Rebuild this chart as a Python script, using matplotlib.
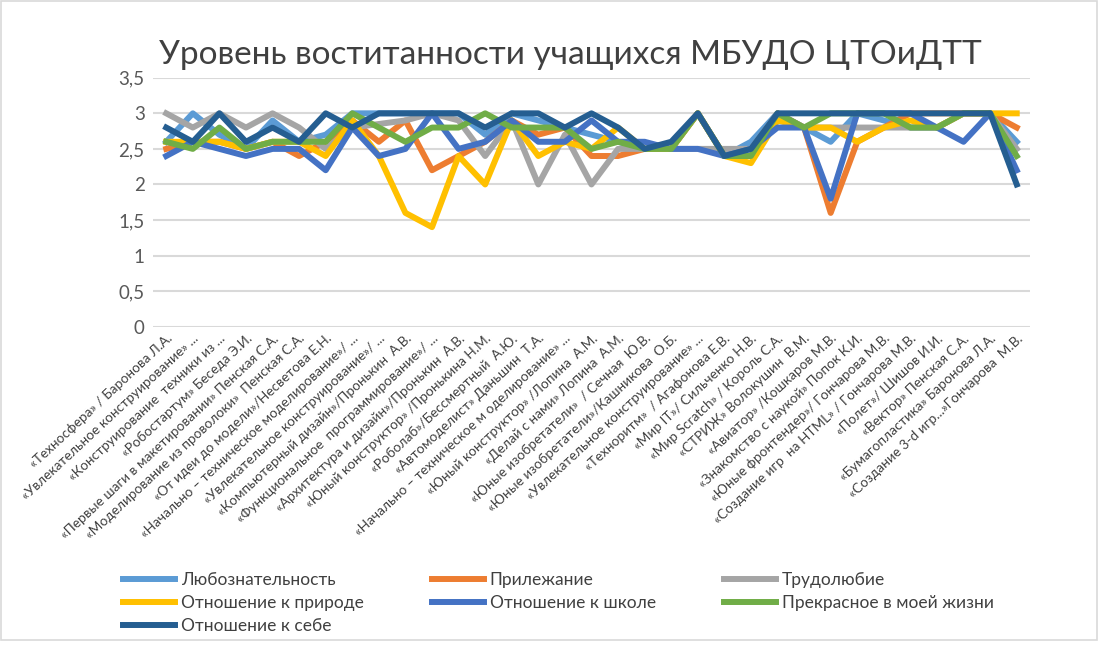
import matplotlib
matplotlib.use('Agg')
import matplotlib.pyplot as plt
from matplotlib.patches import Rectangle

categories = [
    '«Техносфера» / Баронова Л.А.',
    '«Увлекательное конструирование» ...',
    '«Конструирование  техники из ...',
    '«Робостартум» Беседа Э.И.',
    '«Первые шаги в макетировании» Пенская С.А.',
    '«Моделирование из проволоки»  Пенская С.А.',
    '«От идеи до модели»/Несветова Е.Н.',
    '«Начально – техническое моделирование»/ ...',
    '«Увлекательное конструирование»/ ...',
    '«Компьютерный дизайн»/Пронькин  А.В.',
    '«Функциональное  программирование»/ ...',
    '«Архитектура и дизайн»/Пронькин  А.В.',
    '«Юный конструктор» /Пронькина Н.М.',
    '«Роболаб»/Бессмертный  А.Ю.',
    '«Автомоделист» Даньшин  Т.А.',
    '«Начально – техническое м оделирование» ...',
    '«Юный конструктор» /Лопина  А.М.',
    '«Делай с нами» Лопина  А.М.',
    '«Юные изобретатели»  / Сечная  Ю.В.',
    '«Юные изобретатели»/Кашникова  О.Б.',
    '«Увлекательное конструирование» ...',
    '«Техноритм»  / Агафонова Е.В.',
    '«Мир IT»/ Сильченко Н.В.',
    '«Мир Scratch» / Король С.А.',
    '«СТРИЖ» Волокушин  В.М.',
    '«Авиатор» /Кошкаров М.В.',
    '«Знакомство с наукой» Попок К.И.',
    '«Юные фронтендер»/ Гончарова М.В.',
    '«Создание игр  на HTML» / Гончарова М.В.',
    '«Полет»/ Шишов И.И.',
    '«Вектор» Пенская С.А.',
    '«Бумагопластика» Баронова Л.А.',
    '«Создание 3-d игр...»Гончарова  М.В.',
]

curiosity = [2.6, 3.0, 2.7, 2.5, 2.9, 2.6, 2.7, 3.0, 3.0, 3.0, 3.0, 3.0, 2.7, 3.0, 2.9, 2.8, 2.7,
             2.6, 2.5, 2.5, 3.0, 2.4, 2.6, 3.0, 2.8, 2.6, 3.0, 2.9, 2.8, 2.8, 3.0, 3.0, 2.6]
diligence = [2.5, 2.6, 2.6, 2.5, 2.6, 2.4, 2.6, 2.9, 2.6, 2.9, 2.2, 2.4, 2.6, 2.9, 2.7, 2.8, 2.4,
             2.4, 2.5, 2.5, 3.0, 2.4, 2.4, 3.0, 2.8, 1.6, 2.6, 2.8, 3.0, 3.0, 3.0, 3.0, 2.8]
industry = [3.0, 2.8, 3.0, 2.8, 3.0, 2.8, 2.5, 2.8, 2.85, 2.9, 3.0, 2.9, 2.4, 2.9, 2.0, 2.7, 2.0,
            2.5, 2.5, 2.5, 2.5, 2.5, 2.5, 3.0, 2.8, 2.8, 2.8, 2.8, 2.8, 2.8, 3.0, 3.0, 2.5]
nature = [2.6, 2.6, 2.6, 2.5, 2.6, 2.6, 2.4, 2.9, 2.4, 1.6, 1.4, 2.4, 2.0, 2.9, 2.4, 2.6, 2.5,
          2.8, 2.5, 2.5, 3.0, 2.4, 2.3, 2.9, 2.8, 2.8, 2.6, 2.8, 2.9, 2.8, 3.0, 3.0, 3.0]
school = [2.4, 2.6, 2.5, 2.4, 2.5, 2.5, 2.2, 2.8, 2.4, 2.5, 3.0, 2.5, 2.6, 2.9, 2.6, 2.6, 2.9,
          2.6, 2.6, 2.5, 2.5, 2.4, 2.5, 2.8, 2.8, 1.8, 3.0, 3.0, 3.0, 2.8, 2.6, 3.0, 2.2]
beauty = [2.6, 2.5, 2.8, 2.5, 2.6, 2.6, 2.6, 3.0, 2.8, 2.6, 2.8, 2.8, 3.0, 2.8, 2.8, 2.8, 2.5,
          2.6, 2.5, 2.5, 3.0, 2.4, 2.4, 3.0, 2.8, 3.0, 3.0, 3.0, 2.8, 2.8, 3.0, 3.0, 2.4]
self_att = [2.8, 2.6, 3.0, 2.6, 2.8, 2.6, 3.0, 2.8, 3.0, 3.0, 3.0, 3.0, 2.8, 3.0, 3.0, 2.8, 3.0,
            2.8, 2.5, 2.6, 3.0, 2.4, 2.5, 3.0, 3.0, 3.0, 3.0, 3.0, 3.0, 3.0, 3.0, 3.0, 2.0]

series_names = ['Любознательность', 'Прилежание', 'Трудолюбие', 'Отношение к природе',
                'Отношение к школе', 'Прекрасное в моей жизни', 'Отношение к себе']
series_values = [curiosity, diligence, industry, nature, school, beauty, self_att]
colors = ['#5B9BD5', '#ED7D31', '#A5A5A5', '#FFC000', '#4472C4', '#70AD47', '#255E91']

plt.rcParams['font.family'] = ['Lato', 'DejaVu Sans']

fig = plt.figure(figsize=(11.14, 6.53), dpi=100)
ax = fig.add_axes([0.1373, 0.4997, 0.7873, 0.3812])

x = list(range(len(categories)))
handles = []
for name, vals, c in zip(series_names, series_values, colors):
    h, = ax.plot(x, vals, color=c, linewidth=4.3, label=name, solid_joinstyle='round')
    handles.append(h)

ax.set_xlim(-0.5, len(categories) - 0.5)
ax.set_ylim(0, 3.5)
ax.set_yticks([0, 0.5, 1, 1.5, 2, 2.5, 3, 3.5])
ax.set_yticklabels(['0', '0,5', '1', '1,5', '2', '2,5', '3', '3,5'], fontsize=13.5, color='#595959')
ax.set_xticks(x)
ax.set_xticklabels(categories, rotation=43, ha='right', rotation_mode='anchor',
                   fontsize=9.8, color='#404040')
ax.tick_params(axis='both', length=0, pad=6)
ax.tick_params(axis='x', pad=4)
ax.yaxis.grid(True, color='#D9D9D9', linewidth=1.5)
ax.set_axisbelow(True)
for s in ax.spines.values():
    s.set_visible(False)

fig.text(0.512, 0.916, 'Уровень воститанности учащихся МБУДО ЦТОиДТТ',
         ha='center', va='center', fontsize=24, color='#404040')

order = [0, 3, 6, 1, 4, 2, 5]
fig.legend([handles[i] for i in order], [series_names[i] for i in order],
           ncol=3, loc='upper left', bbox_to_anchor=(0.104, 0.135), frameon=False,
           fontsize=12.5, handlelength=3.0, handletextpad=0.35, columnspacing=3.9,
           labelspacing=0.42, borderaxespad=0, labelcolor='#404040')

fig.patches.append(Rectangle((0.001, 0.02), 0.984, 0.978, transform=fig.transFigure,
                             fill=False, edgecolor='#D9D9D9', linewidth=1.2))

fig.savefig('out.png', dpi=100)
